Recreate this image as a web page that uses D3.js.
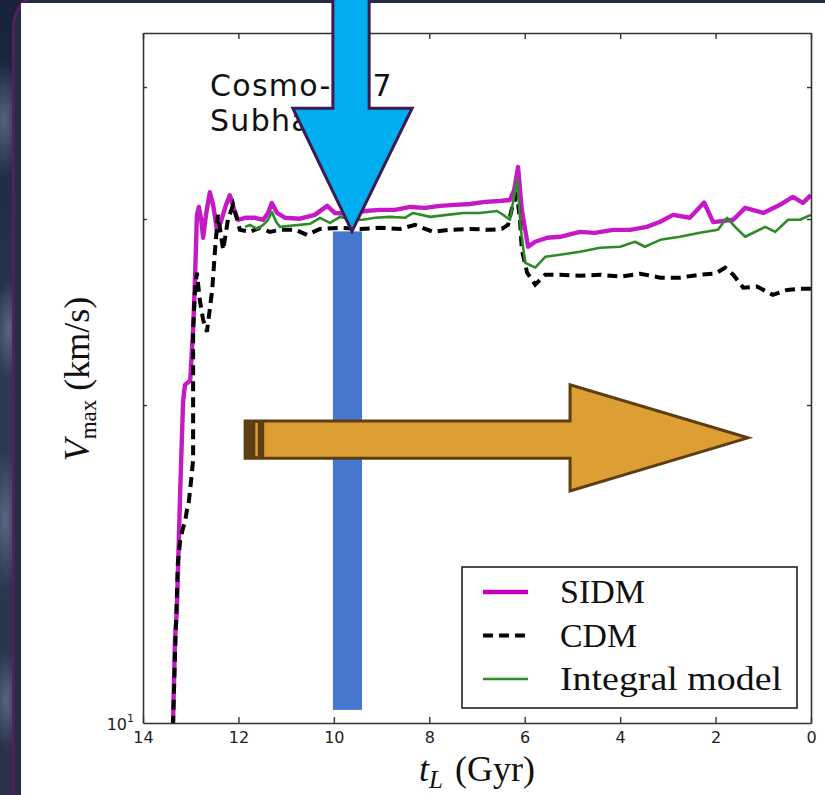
<!DOCTYPE html>
<html>
<head>
<meta charset="utf-8">
<script src="https://cdn.jsdelivr.net/npm/d3@7"></script>
<style>
  body { margin: 0; background: #1b2236; }
  svg { display: block; }
</style>
</head>
<body>
<svg id="chart" width="825" height="795"></svg>
<script>
// ---- data ----------------------------------------------------------
const xTicks = [14, 12, 10, 8, 6, 4, 2, 0];
const yMinorTicks = [20, 30, 40];
const seriesNames = ["SIDM", "CDM", "Integral model"];
const infoLines = ["Cosmo-257", "Subhalo"];

// [lookback time t_L (Gyr), V_max (km/s)]
const sidm = [
  [13.40, 9.6], [13.37, 10.0], [13.33, 11.98], [13.29, 12.8], [13.22, 16.6], [13.16, 20.14],
  [13.12, 20.9], [13.01, 21.1], [12.95, 23.56], [12.91, 26.3], [12.87, 30.27],
  [12.83, 30.8], [12.78, 29.95], [12.74, 28.8], [12.68, 30.27], [12.60, 31.8],
  [12.53, 30.94], [12.45, 29.3], [12.37, 29.8], [12.26, 30.94], [12.18, 31.6],
  [12.09, 30.6], [12.01, 29.95], [11.86, 30.08], [11.65, 30.08], [11.48, 29.95],
  [11.38, 30.4], [11.30, 31.07], [11.19, 30.4], [11.02, 30.08], [10.71, 30.02],
  [10.40, 30.27], [10.14, 30.87], [9.98, 30.4], [9.66, 30.33], [9.35, 30.53],
  [9.03, 30.6], [8.72, 30.6], [8.40, 30.8], [8.09, 30.74], [7.78, 30.87],
  [7.46, 30.94], [7.15, 31.0], [6.83, 31.14], [6.52, 31.2], [6.31, 31.27],
  [6.22, 31.97], [6.14, 33.6], [6.06, 30.6], [5.93, 28.24], [5.78, 28.55],
  [5.53, 28.8], [5.26, 28.86], [4.84, 29.17], [4.53, 29.11], [4.15, 29.3],
  [3.79, 29.3], [3.44, 29.49], [3.16, 29.82], [2.89, 30.27], [2.54, 30.08],
  [2.24, 31.1], [2.05, 29.8], [1.63, 29.95], [1.38, 30.74], [1.00, 30.4],
  [0.65, 30.94], [0.38, 31.48], [0.17, 31.07], [0.00, 31.6]
];
const cdm = [
  [13.40, 9.6], [13.37, 10.0], [13.33, 11.6], [13.29, 13.16], [13.27, 14.17], [13.22, 14.9],
  [13.16, 15.3], [13.12, 15.5], [13.08, 15.9], [13.04, 16.2], [12.99, 17.0],
  [12.95, 17.75], [12.95, 20.5], [12.95, 23.56], [12.91, 25.7], [12.87, 26.69],
  [12.81, 25.15], [12.74, 24.08], [12.66, 23.46], [12.55, 25.7], [12.49, 28.05],
  [12.43, 30.27], [12.32, 28.05], [12.22, 29.95], [12.11, 30.94], [11.97, 29.3],
  [11.76, 29.17], [11.55, 29.43], [11.34, 29.17], [11.13, 29.3], [10.81, 29.3],
  [10.56, 28.98], [10.29, 29.36], [9.87, 29.43], [9.45, 29.36], [9.03, 29.43],
  [8.61, 29.36], [8.30, 29.62], [7.92, 29.17], [7.57, 29.3], [7.15, 29.36],
  [6.73, 29.3], [6.48, 29.36], [6.35, 29.62], [6.25, 30.94], [6.16, 31.6],
  [6.10, 29.95], [6.06, 28.05], [5.95, 26.69], [5.78, 26.0], [5.57, 26.57],
  [5.26, 26.57], [4.84, 26.51], [4.42, 26.57], [4.00, 26.46], [3.58, 26.63],
  [3.16, 26.40], [2.75, 26.40], [2.33, 26.57], [2.01, 26.63], [1.80, 26.98],
  [1.63, 26.57], [1.42, 25.83], [1.13, 25.89], [0.80, 25.43], [0.50, 25.70],
  [0.23, 25.77], [0.00, 25.77]
];
const integral = [
  [11.86, 29.49], [11.76, 29.62], [11.61, 29.36], [11.48, 29.62], [11.38, 29.95],
  [11.30, 30.47], [11.21, 29.82], [11.13, 29.49], [10.92, 29.56], [10.71, 29.62],
  [10.50, 29.69], [10.29, 30.08], [10.08, 29.75], [9.87, 30.14], [9.62, 29.95],
  [9.39, 29.95], [9.14, 30.08], [8.82, 30.14], [8.51, 30.08], [8.34, 30.40],
  [7.98, 30.14], [7.63, 30.27], [7.29, 30.40], [6.94, 30.40], [6.58, 30.53],
  [6.45, 30.27], [6.31, 29.95], [6.16, 32.7], [6.08, 29.3], [5.99, 27.27],
  [5.78, 26.98], [5.57, 27.63], [5.26, 27.75], [4.84, 27.93], [4.42, 28.18],
  [4.00, 28.24], [3.69, 28.55], [3.48, 28.24], [3.16, 28.67], [2.75, 28.86],
  [2.33, 29.11], [1.95, 29.3], [1.76, 30.08], [1.57, 29.43], [1.38, 28.86],
  [0.96, 29.49], [0.75, 29.17], [0.48, 29.95], [0.23, 29.95], [0.00, 30.27]
];

// overlay shapes, in data units (t_L, V_max)
const downArrow = [[10.02, 55], [10.02, 38.2], [10.86, 38.2], [9.62, 29.2],
                   [8.36, 38.2], [9.26, 38.2], [9.26, 55]];
const marker = { t0: 10.02, t1: 9.41, v0: 29.2, v1: 10.29 };
const rightArrow = [[11.86, 19.32], [5.05, 19.32], [5.05, 20.9], [1.32, 18.62],
                    [5.05, 16.58], [5.05, 17.81], [11.86, 17.81]];
const arrowTail = { t0: 11.86, t1: 11.46, stripe: 11.62 };

// ---- layout --------------------------------------------------------
const W = 825, H = 795;
const plot = { left: 143, right: 811, top: 33, bottom: 723 };

const svg = d3.select("#chart");
const defs = svg.append("defs");

// slide backdrop
const bg = defs.append("linearGradient").attr("id", "bgGrad")
  .attr("x1", 0).attr("y1", 0).attr("x2", 0).attr("y2", 1);
bg.append("stop").attr("offset", "0%").attr("stop-color", "#17213a");
bg.append("stop").attr("offset", "50%").attr("stop-color", "#2f3854");
bg.append("stop").attr("offset", "100%").attr("stop-color", "#2a3049");

const neb = defs.append("radialGradient").attr("id", "neb");
neb.append("stop").attr("offset", "0%").attr("stop-color", "#66708f").attr("stop-opacity", 0.8);
neb.append("stop").attr("offset", "100%").attr("stop-color", "#66708f").attr("stop-opacity", 0);

svg.append("rect").attr("width", W).attr("height", H).attr("fill", "url(#bgGrad)");
[[4, 120, 18, 60], [8, 330, 14, 50], [5, 520, 16, 70], [6, 700, 14, 50]].forEach(([cx, cy, rx, ry]) => {
  svg.append("ellipse").attr("cx", cx).attr("cy", cy).attr("rx", rx).attr("ry", ry)
    .attr("fill", "url(#neb)");
});
svg.append("rect").attr("x", 13.5).attr("y", -8).attr("width", 900).attr("height", 900)
  .attr("rx", 34).attr("fill", "#242c44").attr("stroke", "#52205f").attr("stroke-width", 3);

// white panel
svg.append("rect").attr("x", 21).attr("y", 3).attr("width", W - 21).attr("height", H - 3)
  .attr("fill", "#ffffff");

// ---- scales --------------------------------------------------------
const x = d3.scaleLinear().domain([14, 0]).range([plot.left, plot.right]);
const y = d3.scaleLog().domain([10, 45]).range([plot.bottom, plot.top]);

defs.append("clipPath").attr("id", "plotClip").append("rect")
  .attr("x", plot.left).attr("y", plot.top)
  .attr("width", plot.right - plot.left).attr("height", plot.bottom - plot.top);

// ---- series --------------------------------------------------------
const line = d3.line().x(d => x(d[0])).y(d => y(d[1]));
const lines = svg.append("g").attr("clip-path", "url(#plotClip)");

lines.append("path").datum(sidm).attr("d", line)
  .attr("fill", "none").attr("stroke", "#bf00bf").attr("stroke-width", 4.4)
  .attr("stroke-linejoin", "round").attr("stroke-opacity", 0.9);
lines.append("path").datum(cdm).attr("d", line)
  .attr("fill", "none").attr("stroke", "#000").attr("stroke-width", 4)
  .attr("stroke-dasharray", "10,6");
lines.append("path").datum(integral).attr("d", line)
  .attr("fill", "none").attr("stroke", "#2e8b2a").attr("stroke-width", 2.6)
  .attr("stroke-linejoin", "round");

// ---- axes ----------------------------------------------------------
const axisColor = "#333";
function styleAxis(g) {
  g.selectAll(".domain").attr("stroke", axisColor).attr("stroke-width", 1.6);
  g.selectAll(".tick line").attr("stroke", axisColor).attr("stroke-width", 1.4);
  g.selectAll("text").attr("font-family", "DejaVu Sans").attr("font-size", 16).attr("fill", "#222");
}

svg.append("g").attr("transform", `translate(0,${plot.bottom})`)
  .call(d3.axisBottom(x).tickValues(xTicks).tickFormat(d3.format("d"))
    .tickSizeInner(-6).tickSizeOuter(0).tickPadding(9))
  .call(styleAxis);
svg.append("g").attr("transform", `translate(0,${plot.top})`)
  .call(d3.axisTop(x).tickValues(xTicks).tickFormat("")
    .tickSizeInner(-6).tickSizeOuter(0))
  .call(styleAxis);
svg.append("g").attr("transform", `translate(${plot.left},0)`)
  .call(d3.axisLeft(y).tickValues(yMinorTicks).tickFormat("")
    .tickSizeInner(-4).tickSizeOuter(0))
  .call(styleAxis);
svg.append("g").attr("transform", `translate(${plot.right},0)`)
  .call(d3.axisRight(y).tickValues(yMinorTicks).tickFormat("")
    .tickSizeInner(-4).tickSizeOuter(0))
  .call(styleAxis);

// the single decade label
const decade = svg.append("text").attr("x", plot.left - 9).attr("y", y(10) + 7)
  .attr("text-anchor", "end").attr("font-family", "DejaVu Sans").attr("font-size", 16).attr("fill", "#222");
decade.append("tspan").text("10");
decade.append("tspan").attr("dy", -8).attr("font-size", 11).text("1");

// axis titles
const xTitle = svg.append("text").attr("x", (plot.left + plot.right) / 2).attr("y", 781)
  .attr("text-anchor", "middle").attr("font-family", "Liberation Serif").attr("font-size", 36)
  .attr("fill", "#111");
xTitle.append("tspan").attr("font-style", "italic").text("t");
xTitle.append("tspan").attr("font-style", "italic").attr("font-size", 25).attr("dy", 7).text("L");
xTitle.append("tspan").attr("dy", -7).attr("dx", 12).text("(Gyr)");

const yTitle = svg.append("text")
  .attr("transform", `translate(89,${(plot.top + plot.bottom) / 2 + 1}) rotate(-90)`)
  .attr("text-anchor", "middle").attr("font-family", "Liberation Serif").attr("font-size", 36)
  .attr("fill", "#111");
yTitle.append("tspan").attr("font-style", "italic").text("V");
yTitle.append("tspan").attr("font-size", 23).attr("dy", 7).text("max");
yTitle.append("tspan").attr("dy", -7).attr("dx", 9).text("(km/s)");

// run / object caption
svg.append("g").selectAll("text").data(infoLines).join("text")
  .attr("x", 210).attr("y", (d, i) => 96 + i * 35)
  .attr("font-family", "DejaVu Sans").attr("font-size", 30)
  .attr("letter-spacing", 1.3).attr("fill", "#111")
  .text(d => d);

// ---- legend --------------------------------------------------------
const legend = svg.append("g");
legend.append("rect").attr("x", 462).attr("y", 567).attr("width", 335).attr("height", 141)
  .attr("fill", "#fff").attr("stroke", "#222").attr("stroke-width", 1.6);
const legendStyles = [
  { stroke: "#bf00bf", width: 4.4, dash: null, len: 85 },
  { stroke: "#000", width: 4, dash: "10,6", len: 77 },
  { stroke: "#2e8b2a", width: 2.6, dash: null, len: 222 }
];
seriesNames.forEach((name, i) => {
  const base = 603 + i * 43.5;
  const s = legendStyles[i];
  legend.append("line").attr("x1", 483).attr("x2", 528)
    .attr("y1", base - 11).attr("y2", base - 11)
    .attr("stroke", s.stroke).attr("stroke-width", s.width)
    .attr("stroke-dasharray", s.dash);
  legend.append("text").attr("x", 560).attr("y", base)
    .attr("font-family", "Liberation Serif").attr("font-size", 34).attr("fill", "#111")
    .attr("textLength", s.len).attr("lengthAdjust", "spacingAndGlyphs")
    .text(name);
});

// ---- overlays ------------------------------------------------------
const overlay = svg.append("g");
overlay.append("rect")
  .attr("x", x(marker.t0)).attr("y", y(marker.v0))
  .attr("width", x(marker.t1) - x(marker.t0)).attr("height", y(marker.v1) - y(marker.v0))
  .attr("fill", "#4778d0");

const poly = d3.line().x(d => x(d[0])).y(d => y(d[1]));
overlay.append("path").attr("d", poly(rightArrow) + "Z")
  .attr("fill", "#dd9e34").attr("stroke", "#5c3e12").attr("stroke-width", 3)
  .attr("stroke-linejoin", "miter");
overlay.append("rect")
  .attr("x", x(arrowTail.t0)).attr("y", y(rightArrow[0][1]))
  .attr("width", x(arrowTail.t1) - x(arrowTail.t0))
  .attr("height", y(rightArrow[6][1]) - y(rightArrow[0][1]))
  .attr("fill", "#5c3e12");
overlay.append("line")
  .attr("x1", x(arrowTail.stripe)).attr("x2", x(arrowTail.stripe))
  .attr("y1", y(rightArrow[0][1]) + 2).attr("y2", y(rightArrow[6][1]) - 2)
  .attr("stroke", "#dd9e34").attr("stroke-width", 2.5);

overlay.append("path").attr("d", poly(downArrow) + "Z")
  .attr("fill", "#00adef").attr("stroke", "#3d1a4f").attr("stroke-width", 3)
  .attr("stroke-linejoin", "miter");
</script>
</body>
</html>
